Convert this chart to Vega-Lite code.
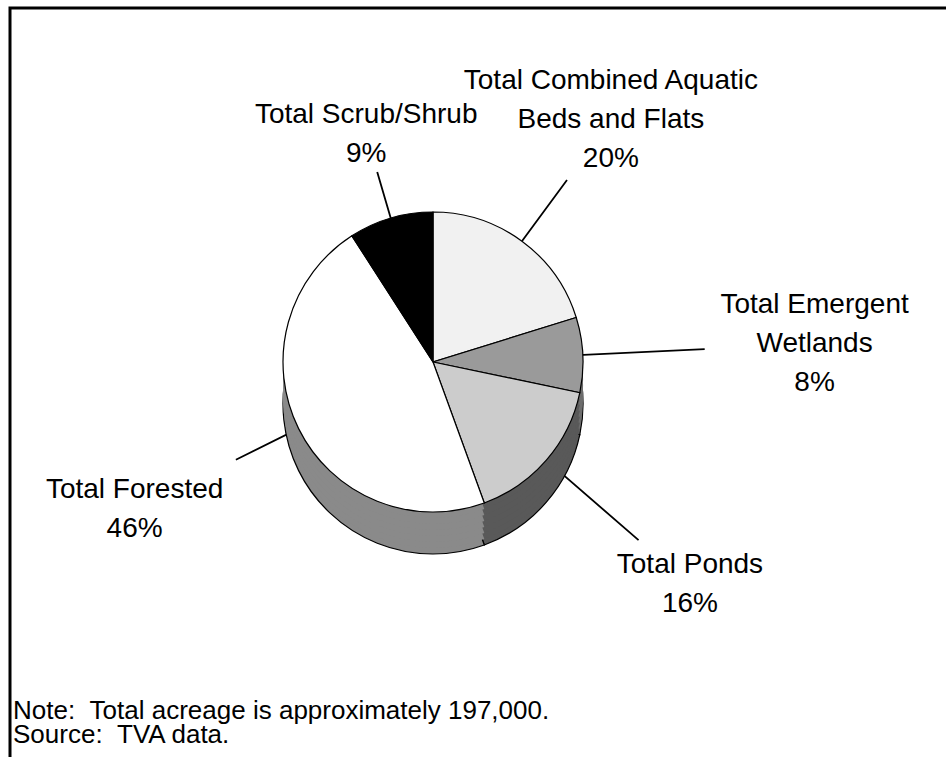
{
  "$schema": "https://vega.github.io/schema/vega-lite/v6.json",
  "width": 950,
  "height": 760,
  "autosize": {"type": "none"},
  "padding": {"left": 10, "top": 8, "right": 0, "bottom": 0},
  "background": "white",
  "view": {"stroke": "black", "strokeWidth": 3},
  "config": {
    "view": {"stroke": "black", "strokeWidth": 3},
    "font": "Liberation Sans",
    "text": {"font": "Liberation Sans", "fontSize": 28, "color": "black", "lineBreak": "\n", "lineHeight": 39, "align": "center", "baseline": "middle"}
  },
  "title": {
    "text": ["Note: \u00a0Total acreage is approximately 197,000.", "Source: \u00a0TVA data."],
    "orient": "bottom",
    "anchor": "start",
    "frame": "group",
    "offset": -70,
    "dx": 3,
    "baseline": "top",
    "fontSize": 26,
    "fontWeight": "normal",
    "font": "Liberation Sans",
    "color": "black",
    "lineHeight": 24
  },
  "data": {
    "values": [
      {"cat": "Total Combined Aquatic Beds and Flats", "label": "Total Combined Aquatic\nBeds and Flats\n20%", "value": 20, "ord": 1},
      {"cat": "Total Emergent Wetlands", "label": "Total Emergent\nWetlands\n8%", "value": 8, "ord": 2},
      {"cat": "Total Ponds", "label": "Total Ponds\n16%", "value": 16, "ord": 3},
      {"cat": "Total Forested", "label": "Total Forested\n46%", "value": 46, "ord": 4},
      {"cat": "Total Scrub/Shrub", "label": "Total Scrub/Shrub\n9%", "value": 9, "ord": 5}
    ]
  },
  "transform": [
    {"stack": "value", "groupby": [], "sort": [{"field": "ord", "order": "ascending"}], "offset": "normalize", "as": ["v0", "v1"]},
    {"fold": ["v0", "v1"], "as": ["edge", "ang"]},
    {"aggregate": [{"op": "mean", "field": "ang", "as": "mid"}], "groupby": ["cat", "label", "value", "ord", "v0", "v1"]}
  ],
  "layer": [
    {"mark": {"type": "point", "opacity": 0},
     "encoding": {"x": {"field": "value", "type": "quantitative", "axis": null}, "y": {"field": "ord", "type": "quantitative", "axis": null}}},

    {"transform": [{"filter": "datum.ord == 1"}], "mark": {"type": "arc", "innerRadius": 140, "outerRadius": 226, "stroke": "black", "strokeWidth": 1.8, "fill": null, "xOffset": -52, "yOffset": -26},
     "encoding": {"theta": {"field": "mid", "type": "quantitative", "scale": {"domain": [0, 1]}}, "theta2": {"field": "mid"}}},
    {"transform": [{"filter": "datum.ord == 2"}], "mark": {"type": "arc", "innerRadius": 140, "outerRadius": 272, "stroke": "black", "strokeWidth": 1.8, "fill": null, "xOffset": -52, "yOffset": -26},
     "encoding": {"theta": {"field": "mid", "type": "quantitative"}, "theta2": {"field": "mid"}}},
    {"transform": [{"filter": "datum.ord == 3"}], "mark": {"type": "arc", "innerRadius": 140, "outerRadius": 272, "stroke": "black", "strokeWidth": 1.8, "fill": null, "xOffset": -52, "yOffset": -26},
     "encoding": {"theta": {"field": "mid", "type": "quantitative"}, "theta2": {"field": "mid"}}},
    {"transform": [{"filter": "datum.ord == 4"}], "mark": {"type": "arc", "innerRadius": 140, "outerRadius": 220, "stroke": "black", "strokeWidth": 1.8, "fill": null, "xOffset": -52, "yOffset": -26},
     "encoding": {"theta": {"field": "mid", "type": "quantitative"}, "theta2": {"field": "mid"}}},
    {"transform": [{"filter": "datum.ord == 5"}], "mark": {"type": "arc", "innerRadius": 140, "outerRadius": 198, "stroke": "black", "strokeWidth": 1.8, "fill": null, "xOffset": -52, "yOffset": -26},
     "encoding": {"theta": {"field": "mid", "type": "quantitative"}, "theta2": {"field": "mid"}}},

    {"mark": {"type": "arc", "outerRadius": 150, "xOffset": -52, "yOffset": 16, "stroke": "black", "strokeWidth": 1.2},
     "encoding": {"theta": {"field": "v0", "type": "quantitative"}, "theta2": {"field": "v1"},
       "fill": {"field": "cat", "type": "nominal", "legend": null, "scale": {"domain": ["Total Combined Aquatic Beds and Flats", "Total Emergent Wetlands", "Total Ponds", "Total Forested", "Total Scrub/Shrub"], "range": ["#bbbbbb", "#6e6e6e", "#595959", "#8a8a8a", "#000000"]}}}},
    {"mark": {"type": "arc", "outerRadius": 150, "xOffset": -52, "yOffset": 10},
     "encoding": {"theta": {"field": "v0", "type": "quantitative"}, "theta2": {"field": "v1"}, "fill": {"field": "cat", "type": "nominal", "legend": null}}},
    {"mark": {"type": "arc", "outerRadius": 150, "xOffset": -52, "yOffset": 4},
     "encoding": {"theta": {"field": "v0", "type": "quantitative"}, "theta2": {"field": "v1"}, "fill": {"field": "cat", "type": "nominal", "legend": null}}},
    {"mark": {"type": "arc", "outerRadius": 150, "xOffset": -52, "yOffset": -2},
     "encoding": {"theta": {"field": "v0", "type": "quantitative"}, "theta2": {"field": "v1"}, "fill": {"field": "cat", "type": "nominal", "legend": null}}},
    {"mark": {"type": "arc", "outerRadius": 150, "xOffset": -52, "yOffset": -8},
     "encoding": {"theta": {"field": "v0", "type": "quantitative"}, "theta2": {"field": "v1"}, "fill": {"field": "cat", "type": "nominal", "legend": null}}},
    {"mark": {"type": "arc", "outerRadius": 150, "xOffset": -52, "yOffset": -14},
     "encoding": {"theta": {"field": "v0", "type": "quantitative"}, "theta2": {"field": "v1"}, "fill": {"field": "cat", "type": "nominal", "legend": null}}},
    {"mark": {"type": "arc", "outerRadius": 150, "xOffset": -52, "yOffset": -20},
     "encoding": {"theta": {"field": "v0", "type": "quantitative"}, "theta2": {"field": "v1"}, "fill": {"field": "cat", "type": "nominal", "legend": null}}},

    {"mark": {"type": "arc", "outerRadius": 150, "xOffset": -52, "yOffset": -26, "stroke": "black", "strokeWidth": 1.2},
     "encoding": {"theta": {"field": "v0", "type": "quantitative"}, "theta2": {"field": "v1"},
       "color": {"field": "cat", "type": "nominal", "legend": null, "scale": {"domain": ["Total Combined Aquatic Beds and Flats", "Total Emergent Wetlands", "Total Ponds", "Total Forested", "Total Scrub/Shrub"], "range": ["#f1f1f1", "#9a9a9a", "#cccccc", "#ffffff", "#000000"]}}}},

    {"transform": [{"filter": "datum.ord == 1"}], "mark": {"type": "text", "radius": 300, "xOffset": -52, "yOffset": -26, "dy": -39},
     "encoding": {"theta": {"field": "mid", "type": "quantitative"}, "text": {"field": "label"}}},
    {"transform": [{"filter": "datum.ord == 2"}], "mark": {"type": "text", "radius": 382, "xOffset": -52, "yOffset": -26, "dy": -39},
     "encoding": {"theta": {"field": "mid", "type": "quantitative"}, "text": {"field": "label"}}},
    {"transform": [{"filter": "datum.ord == 3"}], "mark": {"type": "text", "radius": 340, "xOffset": -52, "yOffset": -26, "dy": -19.5},
     "encoding": {"theta": {"field": "mid", "type": "quantitative"}, "text": {"field": "label"}}},
    {"transform": [{"filter": "datum.ord == 4"}], "mark": {"type": "text", "radius": 333, "xOffset": -52, "yOffset": -26, "dy": -19.5},
     "encoding": {"theta": {"field": "mid", "type": "quantitative"}, "text": {"field": "label"}}},
    {"transform": [{"filter": "datum.ord == 5"}], "mark": {"type": "text", "radius": 237, "xOffset": -52, "yOffset": -26, "dy": -19.5},
     "encoding": {"theta": {"field": "mid", "type": "quantitative"}, "text": {"field": "label"}}}
  ]
}
